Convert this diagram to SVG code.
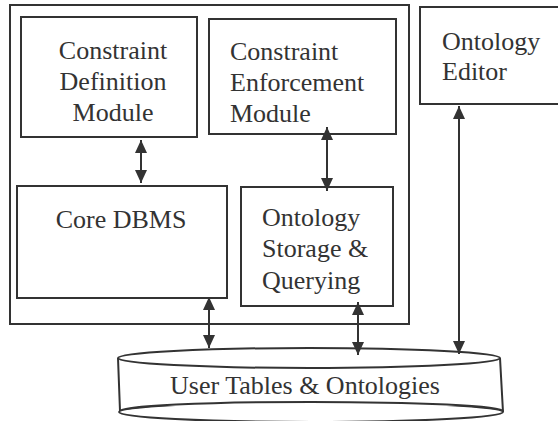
<svg xmlns="http://www.w3.org/2000/svg" width="558" height="421" viewBox="0 0 558 421">
<style>
.box{fill:none;stroke:#333;stroke-width:2}
.lbl{font-family:'Liberation Serif','Times New Roman',Times,'DejaVu Serif',serif;font-size:26px;fill:#333}
.c{text-anchor:middle}
.conn line{stroke:#333;stroke-width:2;marker-start:url(#ah);marker-end:url(#ah)}
</style>
<defs>
<marker id="ah" viewBox="0 0 13 12" refX="13" refY="6" markerWidth="13" markerHeight="12" markerUnits="userSpaceOnUse" orient="auto-start-reverse">
<path d="M0,0 L13,6 L0,12 z" fill="#333"/>
</marker>
</defs>
<rect width="558" height="421" fill="#fff"/>
<g id="system"><rect class="box" x="10" y="5" width="399" height="319"/></g>
<g id="constraint-definition">
<rect class="box" x="21" y="17" width="176" height="120"/>
<text class="lbl c" x="113" y="59" font-family="Liberation Serif, serif">Constraint</text>
<text class="lbl c" x="113" y="90" font-family="Liberation Serif, serif">Definition</text>
<text class="lbl c" x="113" y="121" font-family="Liberation Serif, serif">Module</text>
</g>
<g id="constraint-enforcement">
<rect class="box" x="209" y="19" width="187" height="115"/>
<text class="lbl" x="230" y="60">Constraint</text>
<text class="lbl" x="230" y="91">Enforcement</text>
<text class="lbl" x="230" y="122">Module</text>
</g>
<g id="ontology-editor">
<rect class="box" x="420" y="7" width="145" height="97"/>
<text class="lbl" x="442" y="50">Ontology</text>
<text class="lbl" x="442" y="80">Editor</text>
</g>
<g id="core-dbms">
<rect class="box" x="17" y="186" width="210" height="112"/>
<text class="lbl c" x="121" y="228">Core DBMS</text>
</g>
<g id="ontology-storage">
<rect class="box" x="241" y="187" width="152" height="119"/>
<text class="lbl" x="262" y="226">Ontology</text>
<text class="lbl" x="262" y="257">Storage &amp;</text>
<text class="lbl" x="262" y="289">Querying</text>
</g>
<g id="user-tables">
<ellipse class="box" cx="311" cy="412" rx="192" ry="10"/>
<rect x="119" y="358" width="383" height="48" fill="#fff"/>
<path class="box" d="M118,358 L120,411 M500,358 L503,412"/>
<path class="box" d="M120,411 A191,9 0 0 1 503,411"/>
<ellipse class="box" cx="309" cy="358" rx="191" ry="10" fill="#fff"/>
<text class="lbl c" x="305" y="394">User Tables &amp; Ontologies</text>
</g>
<g id="connectors" class="conn">
<line x1="141" y1="140" x2="141" y2="183"/>
<line x1="327" y1="127" x2="327" y2="191"/>
<line x1="209" y1="297" x2="209" y2="348"/>
<line x1="358" y1="302" x2="358" y2="355"/>
<line x1="459" y1="106" x2="459" y2="354"/>
</g>
</svg>
